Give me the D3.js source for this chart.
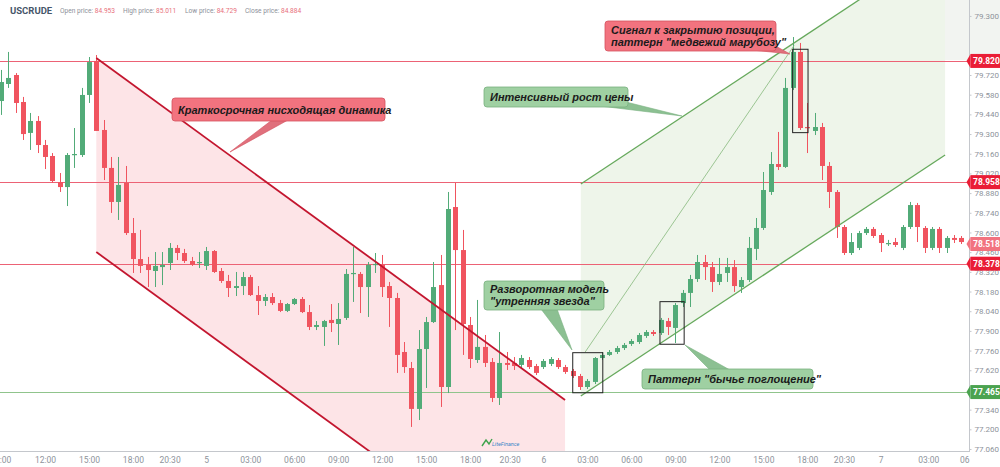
<!DOCTYPE html>
<html><head><meta charset="utf-8">
<script src="https://cdn.jsdelivr.net/npm/d3@7"></script>
<style>
body{margin:0;background:#fff;}
svg{display:block;font-family:Roboto,"Liberation Sans",Arial,sans-serif;}
</style>
</head><body>
<svg id="chart" width="1000" height="467"></svg>
<script>
// ---------------- DATA ----------------
const symbol = "USCRUDE";
const headerLabels = ["Open price:", "High price:", "Low price:", "Close price:"];
const headerValues = ["84.953", "85.011", "84.729", "84.884"];

const openP = [79.535,79.656,79.720,79.528,79.308,79.393,79.222,79.144,78.959,78.923,
79.151,79.151,79.578,79.820,79.329,79.059,78.817,78.952,78.596,78.411,
78.369,78.326,78.354,78.383,78.490,78.454,78.397,78.383,78.362,78.468,
78.326,78.255,78.205,78.219,78.283,78.155,78.113,78.141,78.098,78.042,
78.091,78.127,78.034,77.928,77.928,77.978,77.949,77.992,78.305,78.305,
78.212,78.369,78.369,78.219,78.134,77.750,77.636,77.345,77.771,77.963,
78.226,77.501,78.781,78.475,77.942,77.693,77.786,77.679,77.423,77.672,
77.672,77.658,77.693,77.650,77.643,77.665,77.693,77.643,77.615,77.579,
77.501,77.537,77.707,77.729,77.750,77.778,77.807,77.821,77.864,77.892,
77.885,77.970,77.921,78.098,78.170,78.269,78.390,78.354,78.248,78.312,
78.354,78.212,78.262,78.483,78.632,78.888,79.087,79.066,79.628,79.884,
79.350,79.322,79.350,79.073,78.888,78.639,78.454,78.490,78.596,78.625,
78.582,78.518,78.532,78.490,78.639,78.795,78.632,78.490,78.625,78.490,
78.561,78.561];

const highP = [79.756,79.884,79.734,79.564,79.450,79.428,79.258,79.165,79.023,79.165,
79.343,79.628,79.848,79.862,79.400,79.137,79.137,79.073,78.703,78.618,
78.426,78.461,78.461,78.525,78.511,78.483,78.426,78.461,78.497,78.475,
78.347,78.298,78.319,78.319,78.298,78.219,78.162,78.169,78.120,78.098,
78.134,78.141,78.084,77.970,77.978,78.091,78.098,78.340,78.497,78.319,
78.390,78.454,78.440,78.248,78.170,77.821,77.679,77.906,77.999,78.390,
78.440,78.888,78.952,78.618,77.999,78.120,77.871,77.707,77.892,77.750,
77.714,77.729,77.714,77.665,77.700,77.714,77.707,77.658,77.629,77.594,
77.558,77.714,77.750,77.764,77.793,77.814,77.842,77.885,77.906,77.906,
77.992,77.992,78.098,78.191,78.298,78.440,78.440,78.390,78.419,78.419,
78.404,78.283,78.568,78.703,79.030,79.172,79.315,79.699,79.990,79.948,
79.521,79.450,79.379,79.101,78.902,78.653,78.596,78.611,78.639,78.639,
78.596,78.547,78.561,78.653,78.817,78.810,78.646,78.639,78.639,78.575,
78.582,78.575];

const lowP = [79.436,79.628,79.450,79.258,79.187,79.165,79.051,78.952,78.888,78.788,
79.059,79.137,79.521,79.322,78.973,78.739,78.689,78.582,78.312,78.312,
78.212,78.212,78.226,78.333,78.404,78.383,78.362,78.347,78.333,78.312,
78.241,78.141,78.148,78.155,78.148,78.013,78.077,78.084,78.034,78.034,
78.084,78.027,77.906,77.906,77.793,77.892,77.800,77.978,78.106,78.027,
77.999,78.312,78.141,77.928,77.601,77.601,77.217,77.266,77.494,77.956,
77.359,77.458,77.906,77.729,77.636,77.672,77.643,77.394,77.373,77.622,
77.622,77.636,77.629,77.586,77.629,77.650,77.629,77.594,77.565,77.480,
77.487,77.522,77.693,77.722,77.736,77.764,77.793,77.807,77.850,77.864,
77.871,77.871,77.814,78.070,78.070,78.248,78.262,78.177,78.226,78.248,
78.177,78.170,78.248,78.404,78.618,78.867,79.044,79.059,79.613,79.329,
79.165,79.293,78.973,78.774,78.561,78.440,78.440,78.475,78.582,78.561,
78.461,78.504,78.497,78.475,78.625,78.532,78.454,78.475,78.454,78.454,
78.525,78.518];

const closeP = [79.670,79.699,79.521,79.300,79.393,79.222,79.137,78.966,78.923,79.151,
79.158,79.578,79.812,79.322,79.059,78.817,78.938,78.596,78.411,78.362,
78.333,78.362,78.369,78.490,78.454,78.397,78.369,78.390,78.468,78.319,
78.255,78.205,78.219,78.283,78.155,78.113,78.141,78.098,78.042,78.091,
78.127,78.034,77.928,77.942,77.970,77.956,77.985,78.305,78.312,78.212,
78.369,78.376,78.212,78.134,77.729,77.643,77.345,77.771,77.963,78.212,
77.501,78.767,78.475,77.949,77.700,77.786,77.672,77.423,77.672,77.658,
77.650,77.707,77.643,77.601,77.686,77.700,77.643,77.608,77.579,77.501,
77.544,77.707,77.729,77.750,77.778,77.800,77.828,77.871,77.892,77.878,
77.978,77.928,78.084,78.170,78.269,78.390,78.354,78.248,78.305,78.354,
78.219,78.262,78.490,78.632,78.902,79.087,79.066,79.628,79.884,79.343,
79.343,79.350,79.073,78.888,78.639,78.454,78.532,78.596,78.625,78.575,
78.525,78.525,78.511,78.639,78.795,78.639,78.490,78.625,78.490,78.561,
78.547,78.532];

const xTickIdx = [-0.1,6,12,18,23,28,34,40,46,52,58,64,69.4,74,80,86,92,98,104,110,115,120,126.5,131.4];
const xTickLabels = ["09:00","12:00","15:00","18:00","20:30","5","03:00","06:00","09:00","12:00","15:00","18:00","20:30","6","03:00","06:00","09:00","12:00","15:00","18:00","20:30","7","03:00","06"];

// visible price-scale ticks (the ones fully hidden under price labels are omitted)
const yTickValues = [77.06,77.20,77.34,77.62,77.76,77.90,78.04,78.18,78.32,78.46,78.60,78.74,78.88,79.02,79.16,79.30,79.44,79.58,79.72,80.14];
const yTickLabels = ["77.060","77.200","77.340","77.620","77.760","77.900","78.040","78.180","78.320","78.460","78.600","78.740","78.880","79.020","79.160","79.300","79.440","79.580","79.720","79.300"];

const levelPrices = [79.820, 78.958, 78.378, 77.465];
const levelLabels = ["79.820", "78.958", "78.378", "77.465"];
const levelKinds  = ["red", "red", "red", "green"];
const lastPrice = 78.518;
const lastLabel = "78.518";

// channels: [startIndex, startPrice, endIndex, endPrice, width(price)]
const downChannel = [13, 79.841, 76.95, 77.409, 1.38];
const upChannel   = [79.1, 77.437, 128.8, 79.151, 1.508];
const fanLine     = [79.7, 77.75, 108.2, 79.93];

// pattern boxes: [i0, i1, pLow, pHigh]
const patternBoxes = [
  [78.0, 82.1, 77.460, 77.745],
  [89.9, 93.2, 77.805, 78.108],
  [108.0, 110.1, 79.310, 79.903]
];

const calloutTexts = [
  ["Краткосрочная нисходящая динамика"],
  ["Интенсивный рост цены"],
  ["Сигнал к закрытию позиции,", "паттерн \"медвежий марубозу\""],
  ["Разворотная модель", "\"утренняя звезда\""],
  ["Паттерн \"бычье поглощение\""]
];
const calloutKinds = ["red", "green", "red", "green", "green"];

// ---------------- LAYOUT ----------------
const W = 1000, H = 467;
const plotRight = 969.5, plotBottom = 451;
const svg = d3.select("#chart");

const x = d3.scaleLinear().domain([0, 131]).range([1, 1 + 131 * 7.33]);
const y = d3.scaleLinear().domain([77.06, 79.72]).range([449, 75]);

const C = {
  up: "#52ab78", down: "#f0545f",
  level: "#ec6275", levelG: "#90c48c",
  chan: "#c3162f", chanFill: "#fde4e7",
  gLine: "#66a95c", gFill: "#eef5ea",
  axis: "#c4c7cc", tick: "#8e939b"
};

svg.append("rect").attr("width", W).attr("height", H).attr("fill", "#fff");

svg.append("defs").append("clipPath").attr("id", "plot")
  .append("rect").attr("x", 0).attr("y", 0).attr("width", plotRight).attr("height", plotBottom);

const plot = svg.append("g").attr("clip-path", "url(#plot)");

// top-right light band
svg.append("rect").attr("x", 945).attr("y", 0).attr("width", 55).attr("height", 60).attr("fill", "#f2f4f1");

// channel fills
function chanPoly(c) {
  const [i0, p0, i1, p1, w] = c;
  return [[x(i0), y(p0)], [x(i1), y(p1)], [x(i1), y(p1 - w)], [x(i0), y(p0 - w)]];
}
plot.append("polygon").attr("points", chanPoly(downChannel).join(" ")).attr("fill", C.chanFill);
const upPoly = [[x(upChannel[0]), y(upChannel[1])], [x(upChannel[2]), y(upChannel[3])],
  [x(upChannel[2]), y(upChannel[3] + upChannel[4])], [x(upChannel[0]), y(upChannel[1] + upChannel[4])]];
plot.append("polygon").attr("points", upPoly.join(" ")).attr("fill", C.gFill);

// horizontal levels
levelPrices.forEach((p, k) => {
  plot.append("line").attr("x1", 0).attr("x2", plotRight)
    .attr("y1", Math.round(y(p)) + 0.5).attr("y2", Math.round(y(p)) + 0.5)
    .attr("stroke", levelKinds[k] === "red" ? C.level : C.levelG).attr("stroke-width", 1.1);
});

// candles
const candles = openP.map((o, i) => ({ i, o, h: highP[i], l: lowP[i], c: closeP[i] }));
const cg = plot.append("g");
cg.selectAll("line.w").data(candles).join("line").attr("class", "w")
  .attr("x1", d => Math.round(x(d.i)) + 0.5).attr("x2", d => Math.round(x(d.i)) + 0.5)
  .attr("y1", d => y(d.h)).attr("y2", d => y(d.l))
  .attr("stroke", d => d.c >= d.o ? C.up : C.down).attr("stroke-width", 1);
cg.selectAll("rect.b").data(candles).join("rect").attr("class", "b")
  .attr("x", d => Math.round(x(d.i)) - 2)
  .attr("width", 5)
  .attr("y", d => y(Math.max(d.o, d.c)))
  .attr("height", d => Math.max(1.2, Math.abs(y(d.o) - y(d.c))))
  .attr("fill", d => d.c >= d.o ? C.up : C.down);

// channel lines
function seg(g, a, b, color, w) {
  g.append("line").attr("x1", a[0]).attr("y1", a[1]).attr("x2", b[0]).attr("y2", b[1])
    .attr("stroke", color).attr("stroke-width", w);
}
{
  const [i0, p0, i1, p1, w] = downChannel;
  seg(plot, [x(i0), y(p0)], [x(i1), y(p1)], C.chan, 1.8);
  seg(plot, [x(i0), y(p0 - w)], [x(i1), y(p1 - w)], C.chan, 1.8);
}
{
  const [i0, p0, i1, p1, w] = upChannel;
  seg(plot, [x(i0), y(p0)], [x(i1), y(p1)], C.gLine, 1.3);
  seg(plot, [x(i0), y(p0 + w)], [x(i1), y(p1 + w)], C.gLine, 1.3);
  seg(plot, [x(fanLine[0]), y(fanLine[1])], [x(fanLine[2]), y(fanLine[3])], "#86b97c", 0.8);
}

// pattern boxes
patternBoxes.forEach(b => {
  plot.append("rect").attr("x", x(b[0])).attr("y", y(b[3]))
    .attr("width", x(b[1]) - x(b[0])).attr("height", y(b[2]) - y(b[3]))
    .attr("fill", "none").attr("stroke", "#222").attr("stroke-width", 1);
});

// callouts (layout positions)
const calloutBoxes = [
  { bx: 172, by: 98, bw: 213, bh: 23, ptr: [[272, 120], [288, 120], [230, 152]], ty: [114] },
  { bx: 484, by: 87, bw: 144, bh: 20, ptr: [[600, 106], [626, 102], [682, 116]], ty: [101] },
  { bx: 605, by: 21, bw: 171, bh: 30, ptr: [[752, 50], [772, 44], [790, 54]], ty: [34, 46] },
  { bx: 484, by: 281, bw: 120, bh: 29, ptr: [[541, 309], [557, 309], [572, 350]], ty: [293, 305] },
  { bx: 642, by: 369, bw: 171, bh: 20, ptr: [[710, 370], [730, 370], [685, 345]], ty: [383] }
];
const calloutStyle = {
  red: { fill: "#f2737f", stroke: "#d4505e", ptr: "#e0707c" },
  green: { fill: "#9fd0a2", stroke: "#78b07f", ptr: "#8cc092" }
};
calloutBoxes.forEach((cb, k) => {
  const st = calloutStyle[calloutKinds[k]];
  const g = svg.append("g");
  g.append("polygon").attr("points", cb.ptr.join(" ")).attr("fill", st.ptr).attr("stroke", st.stroke).attr("stroke-width", 0.6);
  g.append("rect").attr("x", cb.bx).attr("y", cb.by).attr("width", cb.bw).attr("height", cb.bh)
    .attr("rx", 3).attr("fill", st.fill).attr("stroke", st.stroke).attr("stroke-width", 0.8);
  calloutTexts[k].forEach((t, j) => {
    g.append("text").attr("x", cb.bx + 6).attr("y", cb.ty[j]).text(t)
      .attr("font-family", "'Liberation Sans', Arial, sans-serif")
      .attr("font-size", 11).attr("font-weight", "bold").attr("font-style", "italic")
      .attr("fill", "#1b1b1b");
  });
});

// logo
const logo = svg.append("g").attr("transform", "translate(482,438)");
logo.append("path").attr("d", "M0,8 L4,2 L7,6 L10,1").attr("fill", "none").attr("stroke", "#3fa34d").attr("stroke-width", 1.4);
logo.append("text").attr("x", 10).attr("y", 8).text("LiteFinance").attr("font-size", 5.5).attr("font-style", "italic").attr("fill", "#3a86c8");

// x axis
svg.append("line").attr("x1", 0).attr("x2", plotRight).attr("y1", plotBottom + 0.5).attr("y2", plotBottom + 0.5)
  .attr("stroke", C.axis).attr("stroke-width", 1);
const xAxis = d3.axisBottom(x).tickValues(xTickIdx).tickFormat((d, k) => xTickLabels[k]).tickSize(0).tickPadding(6);
const gx = svg.append("g").attr("transform", `translate(0,${plotBottom})`).call(xAxis);
gx.select(".domain").remove();
gx.selectAll("text").attr("font-size", 8.5).attr("fill", C.tick).attr("font-family", "Roboto, sans-serif");

// y axis
svg.append("line").attr("x1", plotRight).attr("x2", plotRight).attr("y1", 0).attr("y2", plotBottom + 1)
  .attr("stroke", C.axis).attr("stroke-width", 1);
const yAxis = d3.axisRight(y).tickValues(yTickValues).tickFormat((d, k) => yTickLabels[k]).tickSize(2).tickPadding(3);
const gy = svg.append("g").attr("transform", `translate(${plotRight},0)`).call(yAxis);
gy.select(".domain").remove();
gy.selectAll(".tick line").attr("stroke", C.axis);
gy.selectAll("text").attr("font-size", 8).attr("fill", C.tick).attr("font-family", "Roboto, sans-serif");

// price labels on axis
function priceLabel(p, txt, fill) {
  const yy = y(p);
  const g = svg.append("g");
  g.append("polygon").attr("points", `${plotRight - 3},${yy} ${plotRight + 1},${yy - 7} ${plotRight + 1},${yy + 7}`).attr("fill", fill);
  g.append("rect").attr("x", plotRight + 1).attr("y", yy - 7).attr("width", W - plotRight - 1).attr("height", 14).attr("fill", fill);
  g.append("text").attr("x", plotRight + 3.5).attr("y", yy + 3.3).text(txt)
    .attr("font-size", 8.5).attr("font-weight", "bold").attr("fill", "#fff");
}
levelPrices.forEach((p, k) => priceLabel(p, levelLabels[k], levelKinds[k] === "red" ? "#ea1d36" : "#4ba350"));
priceLabel(lastPrice, lastLabel, "#f2737f");

// header
svg.append("text").attr("x", 10).attr("y", 14).text(symbol)
  .attr("font-size", 9.5).attr("font-weight", "bold").attr("fill", "#46566a");
const hx = [60, 123, 185, 245];
headerLabels.forEach((lab, k) => {
  const t = svg.append("text").attr("x", hx[k]).attr("y", 13).attr("font-size", 6.6).attr("fill", "#8c9099");
  t.append("tspan").text(lab + " ");
  t.append("tspan").text(headerValues[k]).attr("fill", "#e8707c");
});
</script>
</body></html>
